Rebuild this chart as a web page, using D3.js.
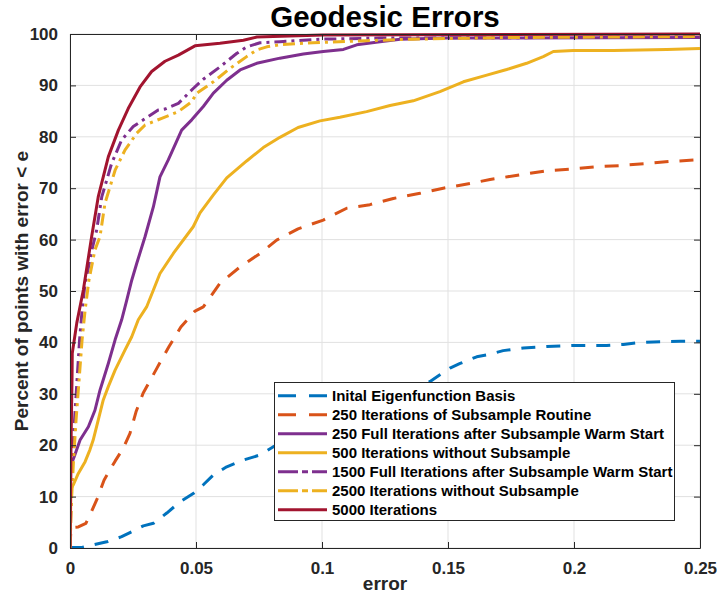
<!DOCTYPE html>
<html>
<head>
<meta charset="utf-8">
<script src="https://cdn.jsdelivr.net/npm/d3@7"></script>
<style>
  html, body { margin: 0; padding: 0; background: #fff; }
  svg text { font-family: "Liberation Sans", Arial, Helvetica, sans-serif; font-weight: bold; }
</style>
</head>
<body>
<svg id="chart" width="717" height="596"></svg>
<script>
// Cumulative geodesic error curves: [error, percent of points with error < e]
const initialBasis = [
  [0, 0.1], [0.0047, 0.1], [0.0092, 0.6], [0.0146, 1.2], [0.0205, 2.2], [0.0238, 3.0],
  [0.0291, 4.3], [0.0331, 4.8], [0.0384, 6.8], [0.0437, 9.0], [0.0489, 10.6], [0.0529, 12.3],
  [0.0569, 14.2], [0.0622, 15.8], [0.0688, 17.1], [0.0754, 18.1], [0.0807, 19.7],
  [0.09, 21.5], [0.1, 23.4], [0.11, 25.4], [0.12, 27.5], [0.13, 29.6], [0.1429, 32.4],
  [0.1468, 33.7], [0.1508, 35.0], [0.1548, 35.9], [0.1614, 37.2], [0.1667, 37.7],
  [0.1719, 38.4], [0.1799, 38.9], [0.1892, 39.2], [0.1997, 39.4], [0.213, 39.4],
  [0.2196, 39.6], [0.2249, 39.9], [0.2315, 40.1], [0.2421, 40.2], [0.25, 40.2]
];
const subsample250 = [
  [0, 0], [0.0004, 4.0], [0.0033, 4.1], [0.0063, 4.8], [0.0079, 6.4], [0.0109, 9.7],
  [0.0135, 13.2], [0.0179, 16.9], [0.021, 19.3], [0.0238, 22.3], [0.0262, 26.5],
  [0.029, 30.1], [0.0345, 35.0], [0.0393, 39.2], [0.044, 43.0], [0.0496, 46.1],
  [0.0529, 46.9], [0.0595, 51.5], [0.0675, 54.7], [0.0754, 57.3], [0.082, 59.9],
  [0.0905, 62.1], [0.1005, 63.8], [0.1098, 66.1], [0.119, 66.8], [0.1283, 68.0],
  [0.1389, 69.0], [0.1481, 70.0], [0.1587, 70.9], [0.1667, 71.7], [0.1786, 72.6],
  [0.1892, 73.4], [0.1984, 73.7], [0.209, 74.2], [0.2183, 74.4], [0.2289, 74.8],
  [0.2381, 75.2], [0.2487, 75.5], [0.25, 75.5]
];
const full250Warm = [
  [0, 0], [0.0003, 16.0], [0.0017, 17.8], [0.004, 21.0], [0.0073, 23.6], [0.0099, 26.8],
  [0.0119, 30.7], [0.0152, 35.9], [0.0179, 40.5], [0.0205, 44.4], [0.0225, 48.2],
  [0.0245, 52.1], [0.0265, 55.4], [0.0298, 60.6], [0.0331, 66.4], [0.0357, 72.2],
  [0.039, 75.5], [0.0443, 81.3], [0.0483, 83.3], [0.0529, 85.9], [0.0569, 88.5],
  [0.0622, 91.0], [0.0675, 93.0], [0.0741, 94.3], [0.0833, 95.3], [0.0926, 96.1],
  [0.1005, 96.6], [0.1085, 97.0], [0.1138, 97.9], [0.123, 98.5], [0.131, 99.0],
  [0.1495, 99.2], [0.25, 99.3]
];
const iter500 = [
  [0, 0], [0.0004, 11.5], [0.0013, 12.3], [0.0033, 14.5], [0.006, 16.8], [0.0079, 19.1],
  [0.0092, 21.0], [0.0112, 24.9], [0.0132, 28.8], [0.0152, 31.4], [0.0179, 34.6],
  [0.0218, 38.5], [0.0245, 41.1], [0.0271, 44.4], [0.0304, 46.9], [0.0331, 50.2],
  [0.0357, 53.4], [0.041, 57.3], [0.0489, 62.5], [0.0516, 65.2], [0.0569, 68.7],
  [0.0622, 72.0], [0.0701, 75.3], [0.0767, 77.9], [0.0833, 79.9], [0.0905, 81.8],
  [0.0992, 83.1], [0.1071, 83.8], [0.1177, 84.9], [0.127, 86.1], [0.1362, 87.0],
  [0.1468, 88.8], [0.1561, 90.7], [0.1654, 92.0], [0.1733, 93.1], [0.1812, 94.3],
  [0.1878, 95.6], [0.1918, 96.6], [0.1997, 96.8], [0.2156, 96.8], [0.2368, 97.0],
  [0.25, 97.2]
];
const full1500Warm = [
  [0, 0], [0.0004, 9.3], [0.001, 17.1], [0.0018, 24.9], [0.0028, 32.7], [0.0038, 40.5],
  [0.0048, 46.3], [0.006, 51.6], [0.0071, 54.1], [0.0087, 58.0], [0.0106, 61.9],
  [0.0126, 68.3], [0.0165, 74.8], [0.0205, 79.4], [0.0251, 82.0], [0.0291, 83.3],
  [0.035, 85.2], [0.0377, 85.4], [0.043, 86.5], [0.0489, 89.4], [0.0529, 91.2],
  [0.0595, 93.6], [0.0661, 96.2], [0.0701, 97.5], [0.0754, 98.3], [0.0833, 98.5],
  [0.1004, 99.0], [0.123, 99.2], [0.25, 99.4]
];
const iter2500 = [
  [0, 0], [0.0006, 9.3], [0.0014, 17.1], [0.0024, 24.9], [0.0036, 32.7], [0.0048, 40.5],
  [0.006, 46.3], [0.0075, 52.1], [0.0099, 58.0], [0.0119, 60.6], [0.0139, 67.1],
  [0.0179, 73.5], [0.0218, 77.4], [0.0265, 80.7], [0.0298, 82.3], [0.0364, 83.6],
  [0.043, 84.9], [0.0483, 86.8], [0.0503, 88.5], [0.0569, 90.7], [0.0635, 93.3],
  [0.0701, 95.6], [0.0741, 96.9], [0.0781, 97.5], [0.0833, 97.9], [0.0964, 98.3],
  [0.1177, 98.7], [0.1361, 99.0], [0.1706, 99.3], [0.25, 99.5]
];
const iter5000 = [
  [0, 0], [0.0004, 20.0], [0.0008, 33.0], [0.0009, 37.9], [0.0027, 43.8], [0.0053, 50.2],
  [0.0086, 60.6], [0.0112, 68.3], [0.0152, 76.1], [0.0192, 81.3], [0.0231, 85.5],
  [0.0278, 89.7], [0.0324, 92.7], [0.0377, 94.7], [0.043, 95.9], [0.0496, 97.7],
  [0.0595, 98.2], [0.0688, 98.8], [0.0741, 99.4], [0.1004, 99.8], [0.25, 100]
];

const seriesNames = [
  "Inital Eigenfunction Basis",
  "250 Iterations of Subsample Routine",
  "250 Full Iterations after Subsample Warm Start",
  "500 Iterations without Subsample",
  "1500 Full Iterations after Subsample Warm Start",
  "2500 Iterations without Subsample",
  "5000 Iterations"
];
const seriesData = [initialBasis, subsample250, full250Warm, iter500, full1500Warm, iter2500, iter5000];
const seriesColors = ["#0072BD", "#D95319", "#7E2F8E", "#EDB120", "#7E2F8E", "#EDB120", "#A2142F"];
const seriesDash = ["14,11", "14,11", null, null, "12,5,3,5", "12,5,3,5", null];
const legendDash = ["18,13", "18,13", null, null, "20,4,6,4", "20,4,6,4", null];

const xTicks = [0, 0.05, 0.1, 0.15, 0.2, 0.25];
const yTicks = [0, 10, 20, 30, 40, 50, 60, 70, 80, 90, 100];

(function draw() {
  const svg = d3.select("#chart");
  const plotL = 70, plotR = 700, plotT = 34, plotB = 548;

  const x = d3.scaleLinear().domain([0, 0.25]).range([plotL, plotR]);
  const y = d3.scaleLinear().domain([0, 100]).range([plotB, plotT]);

  // grid
  const grid = svg.append("g");
  grid.selectAll("line.gx").data(xTicks).join("line").attr("class", "gx")
    .attr("x1", d => x(d)).attr("x2", d => x(d))
    .attr("y1", plotT).attr("y2", plotB)
    .attr("stroke", "#e1e1e1").attr("stroke-width", 1);
  grid.selectAll("line.gy").data(yTicks).join("line").attr("class", "gy")
    .attr("x1", plotL).attr("x2", plotR)
    .attr("y1", d => y(d)).attr("y2", d => y(d))
    .attr("stroke", "#e1e1e1").attr("stroke-width", 1);

  // curves
  svg.append("defs").append("clipPath").attr("id", "plotClip")
    .append("rect").attr("x", plotL).attr("y", plotT - 2).attr("width", plotR - plotL).attr("height", plotB - plotT + 4);

  const line = d3.line().x(d => x(d[0])).y(d => y(d[1]));
  const curves = svg.append("g").attr("clip-path", "url(#plotClip)");
  seriesData.forEach((data, i) => {
    curves.append("path")
      .attr("d", line(data))
      .attr("fill", "none")
      .attr("stroke", seriesColors[i])
      .attr("stroke-width", 3)
      .attr("stroke-linejoin", "round")
      .attr("stroke-dasharray", seriesDash[i]);
  });

  // axes (inward ticks, closed box)
  const axisColor = "#262626";
  const fmtX = d => d === 0 ? "0" : String(+d.toFixed(2));
  const xAxis = d3.axisBottom(x).tickValues(xTicks).tickFormat(fmtX).tickSizeInner(-6).tickSizeOuter(0).tickPadding(14);
  const yAxis = d3.axisLeft(y).tickValues(yTicks).tickSizeInner(-6).tickSizeOuter(0).tickPadding(12);
  const xTop = d3.axisTop(x).tickValues(xTicks).tickFormat("").tickSizeInner(-6).tickSizeOuter(0);
  const yRight = d3.axisRight(y).tickValues(yTicks).tickFormat("").tickSizeInner(-6).tickSizeOuter(0);

  function styleAxis(g) {
    g.select(".domain").attr("stroke", axisColor).attr("stroke-width", 1);
    g.selectAll(".tick line").attr("stroke", axisColor);
    g.selectAll(".tick text").attr("fill", "#262626").style("font-size", "17px")
      .style("font-family", "'Liberation Sans', Arial, sans-serif").style("font-weight", "bold");
  }
  svg.append("g").attr("transform", `translate(0,${plotB})`).call(xAxis).call(styleAxis);
  svg.append("g").attr("transform", `translate(${plotL},0)`).call(yAxis).call(styleAxis);
  svg.append("g").attr("transform", `translate(0,${plotT})`).call(xTop).call(styleAxis);
  svg.append("g").attr("transform", `translate(${plotR},0)`).call(yRight).call(styleAxis);

  // title and axis labels
  svg.append("text").attr("x", (plotL + plotR) / 2).attr("y", 27)
    .attr("text-anchor", "middle").style("font-size", "29.5px").attr("fill", "#000")
    .text("Geodesic Errors");
  svg.append("text").attr("x", (plotL + plotR) / 2).attr("y", 590)
    .attr("text-anchor", "middle").style("font-size", "19px").attr("fill", "#262626")
    .text("error");
  svg.append("text")
    .attr("transform", `translate(28,${(plotT + plotB) / 2}) rotate(-90)`)
    .attr("text-anchor", "middle").style("font-size", "19px").attr("fill", "#262626")
    .text("Percent of points with error < e");

  // legend
  const lg = svg.append("g");
  lg.append("rect").attr("x", 274.5).attr("y", 382.5).attr("width", 400).attr("height", 138)
    .attr("fill", "#fff").attr("stroke", "#262626").attr("stroke-width", 1);
  seriesNames.forEach((name, i) => {
    const cy = 395.7 + i * 19;
    lg.append("line").attr("x1", 278).attr("x2", 327).attr("y1", cy).attr("y2", cy)
      .attr("stroke", seriesColors[i]).attr("stroke-width", 3)
      .attr("stroke-dasharray", legendDash[i]);
    lg.append("text").attr("x", 332).attr("y", cy + 5.5)
      .style("font-size", "15px").attr("fill", "#000").text(name);
  });
})();
</script>
</body>
</html>
